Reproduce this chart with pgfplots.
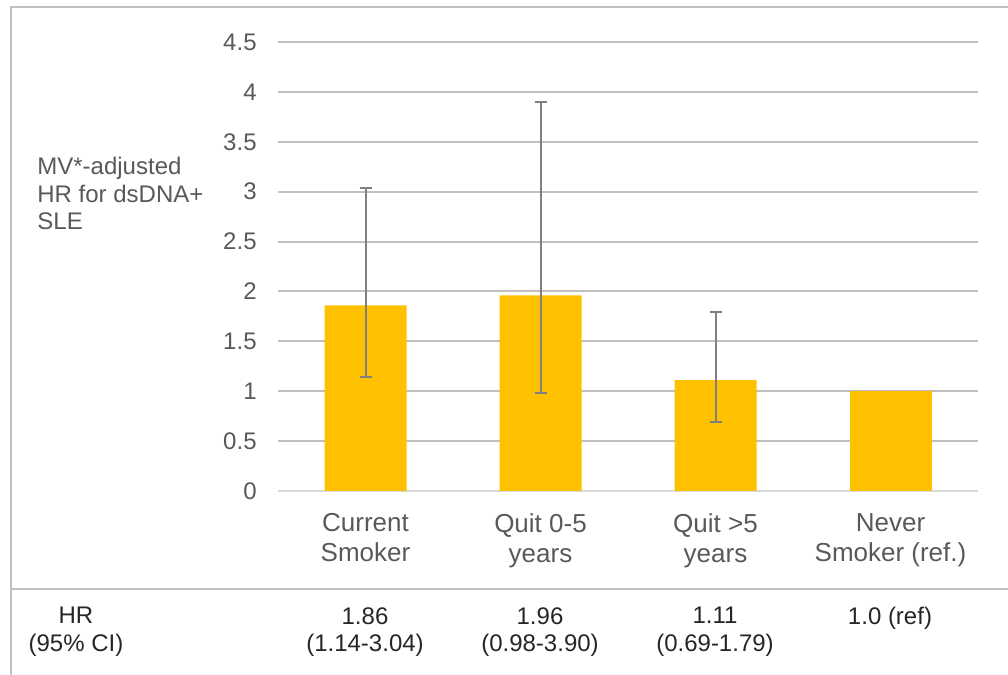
\documentclass[border=0pt]{standalone}
\usepackage{pgfplots}
\pgfplotsset{compat=1.18}
\usepackage{fontspec}
\setmainfont{Liberation Sans}
\definecolor{barc}{HTML}{FFC000}
\definecolor{gridc}{HTML}{BFBFBF}
\definecolor{zeroc}{HTML}{D9D9D9}
\definecolor{txtc}{HTML}{595959}
\definecolor{errc}{HTML}{7F7F7F}
\definecolor{framec}{HTML}{BFBFBF}
\begin{document}
\begin{tikzpicture}[x=0.5pt,y=0.5pt]
\path[use as bounding box] (0,0) rectangle (1008,675);
\draw[framec, line width=1pt] (11,0) -- (11,668) -- (1008,668);
\draw[framec, line width=1pt] (11,86) -- (1008,86);
\begin{axis}[
  at={(139pt,92pt)}, anchor=south west,
  scale only axis, width=350pt, height=224.5pt,
  xmin=-0.5, xmax=3.5, ymin=0, ymax=4.5,
  axis line style={draw=none},
  major tick length=0pt,
  ymajorgrids,
  grid style={gridc, line width=1pt},
  ytick={0.5,1,1.5,2,2.5,3,3.5,4,4.5},
  extra y ticks={0},
  extra y tick style={grid style={zeroc, line width=1pt}},
  yticklabel style={anchor=east, inner sep=0pt, xshift=-10.5pt, text=txtc, font=\fontsize{12}{14}\selectfont},
  /pgf/number format/assume math mode=true,
  xtick={0,1,2,3},
  xticklabels={{Current\\Smoker},{Quit 0-5\\years},{Quit >5\\years},{Never\\Smoker (ref.)}},
  xticklabel style={anchor=north, inner sep=0pt, yshift=-11pt, align=center, text=txtc, font=\fontsize{13}{15}\selectfont},
  ybar, bar width=41pt, bar shift=0pt,
  clip=false,
]
\addplot[fill=barc, draw=none,
  error bars/.cd, y dir=both, y explicit,
  error bar style={errc, line width=1pt},
  error mark options={errc, rotate=90, mark size=3pt, line width=1pt}]
  table[x=x, y=y, y error plus=ep, y error minus=em] {
x y ep em
0 1.86 1.18 0.72
1 1.96 1.94 0.98
2 1.11 0.68 0.42
};
\addplot[fill=barc, draw=none] coordinates {(3,1.0)};
\end{axis}
\node[anchor=north west, inner sep=0pt, align=left, text=txtc, font=\fontsize{12}{13.8}\selectfont] at (37,518) {MV*-adjusted\\HR for dsDNA+\\SLE};
\begin{scope}[every node/.style={anchor=north, inner sep=0pt, align=center, font=\fontsize{12}{13.8}\selectfont, text=black!85}]
\node at (76,68) {HR\\(95\% CI)};
\node at (365,68) {1.86\\(1.14-3.04)};
\node at (540,68) {1.96\\(0.98-3.90)};
\node at (715,68) {1.11\\(0.69-1.79)};
\node at (890,68) {1.0 (ref)};
\end{scope}
\end{tikzpicture}
\end{document}
